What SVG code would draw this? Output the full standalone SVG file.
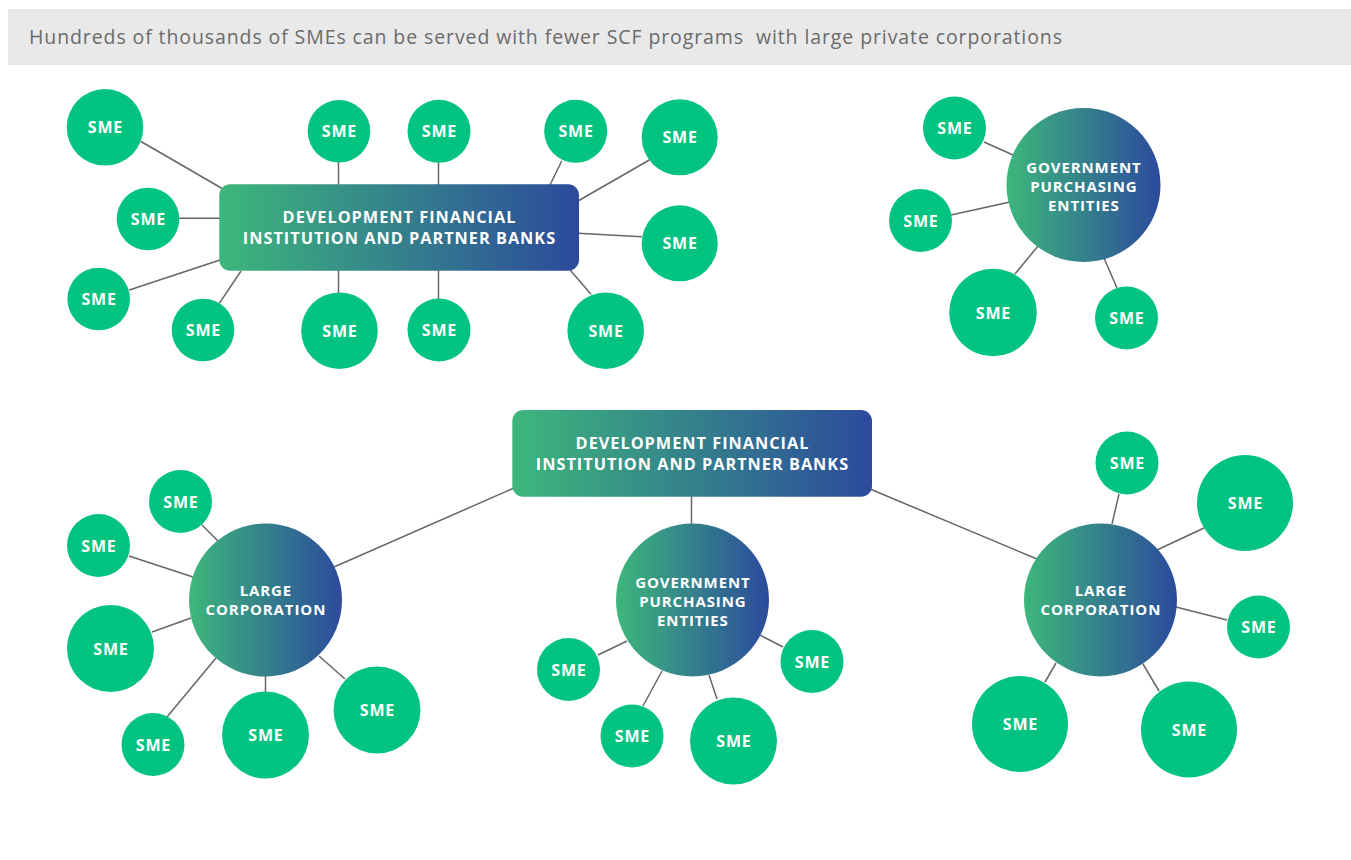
<svg xmlns="http://www.w3.org/2000/svg" width="1351" height="860" viewBox="0 0 1351 860">
  <defs>
    <linearGradient id="hub" x1="0" y1="0" x2="1" y2="0">
      <stop offset="0" stop-color="#3db77b"/>
      <stop offset="1" stop-color="#2c4a9c"/>
    </linearGradient>
    <style>
      .title { font-family: "Open Sans", "Liberation Sans", sans-serif; font-size: 19.5px; letter-spacing: 0.9px; fill: #6b6b6b; white-space: pre; }
      .sme circle { fill: #02c37f; }
      .sme text { font-family: "Open Sans", "Liberation Sans", sans-serif; font-weight: bold; font-size: 16px; letter-spacing: 0.8px; fill: #ffffff; text-anchor: middle; }
      .hub rect, .hub circle { fill: url(#hub); }
      .hub text { font-family: "Open Sans", "Liberation Sans", sans-serif; font-weight: bold; fill: #ffffff; text-anchor: middle; }
      .bank text { font-size: 16.3px; letter-spacing: 1px; }
      .round text { font-size: 15px; letter-spacing: 0.9px; }
      #connectors line { stroke: #666666; stroke-width: 1.5; }
    </style>
  </defs>

  <rect x="0" y="0" width="1351" height="860" fill="#ffffff"/>

  <!-- title bar -->
  <rect x="8" y="9" width="1343" height="56" fill="#e9e9e9"/>
  <text class="title" x="29" y="44" xml:space="preserve">Hundreds of thousands of SMEs can be served with fewer SCF programs  with large private corporations</text>

  <!-- connectors -->
  <g id="connectors">
    <!-- top-left bank cluster -->
    <line x1="141" y1="141.5" x2="223" y2="189"/>
    <line x1="179" y1="218.3" x2="220" y2="218.3"/>
    <line x1="129.3" y1="290" x2="220" y2="260"/>
    <line x1="219.3" y1="303.3" x2="241" y2="271"/>
    <line x1="338.5" y1="162" x2="338.5" y2="185"/>
    <line x1="438.5" y1="162" x2="438.5" y2="185"/>
    <line x1="561.7" y1="161" x2="550" y2="185"/>
    <line x1="649.3" y1="160" x2="578" y2="201"/>
    <line x1="641.7" y1="236.7" x2="578" y2="233.3"/>
    <line x1="338.5" y1="270" x2="338.5" y2="293"/>
    <line x1="438.5" y1="270" x2="438.5" y2="299"/>
    <line x1="591" y1="294.3" x2="569.3" y2="269"/>
    <!-- top-right government cluster -->
    <line x1="984" y1="142" x2="1013" y2="155"/>
    <line x1="951" y1="215" x2="1010" y2="202"/>
    <line x1="1015" y1="274" x2="1038" y2="246"/>
    <line x1="1117" y1="288" x2="1104" y2="258"/>
    <!-- lower bank to hubs -->
    <line x1="514" y1="488" x2="334" y2="567"/>
    <line x1="691.5" y1="496" x2="691.5" y2="524"/>
    <line x1="870" y1="489" x2="1037" y2="559"/>
    <!-- lower-left corporation -->
    <line x1="202" y1="525" x2="218" y2="541"/>
    <line x1="129" y1="556" x2="193" y2="577"/>
    <line x1="152" y1="632" x2="191" y2="618"/>
    <line x1="167" y1="717" x2="216" y2="658"/>
    <line x1="265.5" y1="676" x2="265.5" y2="692"/>
    <line x1="319" y1="656" x2="345" y2="679"/>
    <!-- lower-middle government -->
    <line x1="598" y1="655" x2="627" y2="641"/>
    <line x1="643" y1="706" x2="662" y2="671"/>
    <line x1="717" y1="699" x2="709" y2="675"/>
    <line x1="783" y1="647" x2="760" y2="635"/>
    <!-- lower-right corporation -->
    <line x1="1119" y1="494" x2="1112" y2="524"/>
    <line x1="1204" y1="528" x2="1157" y2="550"/>
    <line x1="1227" y1="620" x2="1176" y2="607"/>
    <line x1="1045" y1="682" x2="1056" y2="663"/>
    <line x1="1159" y1="691" x2="1143" y2="664"/>
  </g>

  <!-- upper bank hub -->
  <g id="bank-top" class="hub bank">
    <rect x="219.3" y="184.3" width="359.7" height="86.4" rx="11"/>
    <text x="399.5" y="223.3">DEVELOPMENT FINANCIAL</text>
    <text x="399.5" y="243.5">INSTITUTION AND PARTNER BANKS</text>
  </g>
  <g id="sme-t1" class="sme"><circle cx="105" cy="127.3" r="38.3"/><text x="105.4" y="133.3">SME</text></g>
  <g id="sme-t2" class="sme"><circle cx="148" cy="219" r="31.3"/><text x="148.4" y="225">SME</text></g>
  <g id="sme-t3" class="sme"><circle cx="98.7" cy="299" r="31.3"/><text x="99.1" y="305">SME</text></g>
  <g id="sme-t4" class="sme"><circle cx="203" cy="330" r="31.3"/><text x="203.4" y="336">SME</text></g>
  <g id="sme-t5" class="sme"><circle cx="339" cy="131.3" r="31.3"/><text x="339.4" y="137.3">SME</text></g>
  <g id="sme-t6" class="sme"><circle cx="439" cy="131.3" r="31.5"/><text x="439.4" y="137.3">SME</text></g>
  <g id="sme-t7" class="sme"><circle cx="575.7" cy="131.3" r="31.5"/><text x="576.1" y="137.3">SME</text></g>
  <g id="sme-t8" class="sme"><circle cx="679.7" cy="137.3" r="38"/><text x="680.1" y="143.3">SME</text></g>
  <g id="sme-t9" class="sme"><circle cx="679.7" cy="243.3" r="38"/><text x="680.1" y="249.3">SME</text></g>
  <g id="sme-t10" class="sme"><circle cx="339.5" cy="330.7" r="38.3"/><text x="339.9" y="336.7">SME</text></g>
  <g id="sme-t11" class="sme"><circle cx="439" cy="330" r="31.5"/><text x="439.4" y="336">SME</text></g>
  <g id="sme-t12" class="sme"><circle cx="605.7" cy="330.7" r="38.3"/><text x="606.1" y="336.7">SME</text></g>

  <!-- upper government hub -->
  <g id="gov-top" class="hub round">
    <circle cx="1083.5" cy="185" r="77"/>
    <text x="1083.9" y="173">GOVERNMENT</text>
    <text x="1083.9" y="192">PURCHASING</text>
    <text x="1083.9" y="211">ENTITIES</text>
  </g>
  <g id="sme-g1" class="sme"><circle cx="954.5" cy="128" r="31.5"/><text x="954.9" y="134">SME</text></g>
  <g id="sme-g2" class="sme"><circle cx="920.5" cy="220.5" r="31.5"/><text x="920.9" y="226.5">SME</text></g>
  <g id="sme-g3" class="sme"><circle cx="993" cy="312.5" r="43.8"/><text x="993.4" y="318.5">SME</text></g>
  <g id="sme-g4" class="sme"><circle cx="1126.5" cy="318" r="31.5"/><text x="1126.9" y="324">SME</text></g>

  <!-- lower bank hub -->
  <g id="bank-bottom" class="hub bank">
    <rect x="512.3" y="410" width="359.7" height="86.7" rx="11"/>
    <text x="692.5" y="449.3">DEVELOPMENT FINANCIAL</text>
    <text x="692.5" y="469.5">INSTITUTION AND PARTNER BANKS</text>
  </g>

  <!-- lower-left corporation -->
  <g id="corp-left" class="hub round">
    <circle cx="265.5" cy="600" r="76.5"/>
    <text x="265.9" y="596">LARGE</text>
    <text x="265.9" y="615">CORPORATION</text>
  </g>
  <g id="sme-l1" class="sme"><circle cx="180.5" cy="501.5" r="31.5"/><text x="180.9" y="507.5">SME</text></g>
  <g id="sme-l2" class="sme"><circle cx="98.5" cy="545.5" r="31.5"/><text x="98.9" y="551.5">SME</text></g>
  <g id="sme-l3" class="sme"><circle cx="110.5" cy="648.5" r="43.5"/><text x="110.9" y="654.5">SME</text></g>
  <g id="sme-l4" class="sme"><circle cx="153" cy="744.5" r="31.5"/><text x="153.4" y="750.5">SME</text></g>
  <g id="sme-l5" class="sme"><circle cx="265.5" cy="735" r="43.5"/><text x="265.9" y="741">SME</text></g>
  <g id="sme-l6" class="sme"><circle cx="377" cy="710" r="43.5"/><text x="377.4" y="716">SME</text></g>

  <!-- lower-middle government -->
  <g id="gov-bottom" class="hub round">
    <circle cx="692.5" cy="600" r="76.5"/>
    <text x="692.9" y="588">GOVERNMENT</text>
    <text x="692.9" y="607">PURCHASING</text>
    <text x="692.9" y="626">ENTITIES</text>
  </g>
  <g id="sme-m1" class="sme"><circle cx="568.5" cy="669.5" r="31.5"/><text x="568.9" y="675.5">SME</text></g>
  <g id="sme-m2" class="sme"><circle cx="632" cy="736" r="31.5"/><text x="632.4" y="742">SME</text></g>
  <g id="sme-m3" class="sme"><circle cx="733.5" cy="741" r="43.5"/><text x="733.9" y="747">SME</text></g>
  <g id="sme-m4" class="sme"><circle cx="812" cy="661.5" r="31.5"/><text x="812.4" y="667.5">SME</text></g>

  <!-- lower-right corporation -->
  <g id="corp-right" class="hub round">
    <circle cx="1100.5" cy="600" r="76.5"/>
    <text x="1100.9" y="596">LARGE</text>
    <text x="1100.9" y="615">CORPORATION</text>
  </g>
  <g id="sme-r1" class="sme"><circle cx="1127" cy="463" r="31.5"/><text x="1127.4" y="469">SME</text></g>
  <g id="sme-r2" class="sme"><circle cx="1245" cy="503" r="48"/><text x="1245.4" y="509">SME</text></g>
  <g id="sme-r3" class="sme"><circle cx="1258.5" cy="627" r="31.5"/><text x="1258.9" y="633">SME</text></g>
  <g id="sme-r4" class="sme"><circle cx="1020" cy="724" r="48"/><text x="1020.4" y="730">SME</text></g>
  <g id="sme-r5" class="sme"><circle cx="1189" cy="729.5" r="48"/><text x="1189.4" y="735.5">SME</text></g>
</svg>
